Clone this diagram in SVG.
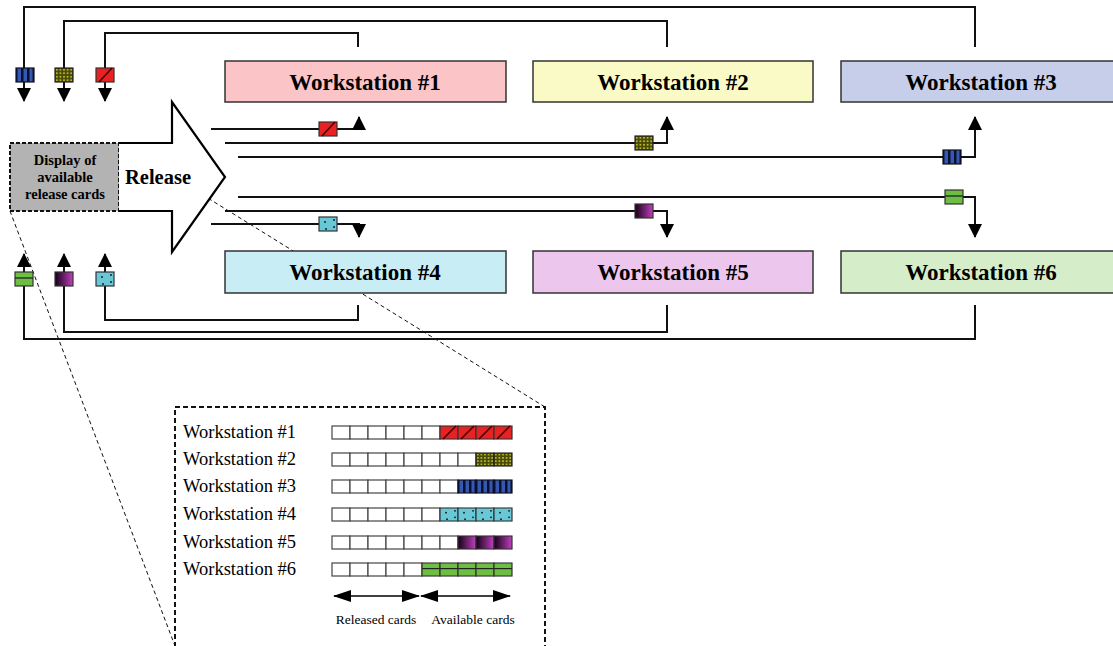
<svg xmlns="http://www.w3.org/2000/svg" width="1113" height="646" viewBox="0 0 1113 646">
<style>
.ln{fill:none;stroke:#111;stroke-width:2}
.ws{stroke:#333;stroke-width:1.5}
.wt{font-family:"Liberation Serif",serif;font-weight:bold;font-size:23px;text-anchor:middle;fill:#000}
.tt{font-family:"Liberation Serif",serif;font-size:18.5px;fill:#000}
.lb{font-family:"Liberation Serif",serif;font-size:13.5px;fill:#000;text-anchor:middle}
.dt{font-family:"Liberation Serif",serif;font-weight:bold;font-size:14.5px;text-anchor:middle;fill:#000}
.cell{fill:#fff;stroke:#444;stroke-width:1.2}
.dash{fill:none;stroke:#111;stroke-width:1;stroke-dasharray:4,3}
</style>
<defs>
<marker id="ah" viewBox="0 0 14 14" refX="13" refY="7" markerWidth="14" markerHeight="14" orient="auto" markerUnits="userSpaceOnUse"><path d="M0,0 L14,7 L0,14 z" fill="#000"/></marker>
<marker id="ah2" viewBox="0 0 18 12" refX="17" refY="6" markerWidth="18" markerHeight="12" orient="auto-start-reverse" markerUnits="userSpaceOnUse"><path d="M0,0 L18,6 L0,12 z" fill="#000"/></marker>
<pattern id="dots" width="3.6" height="3.5" patternUnits="userSpaceOnUse"><circle cx="1.8" cy="1.75" r="0.9" fill="#d8d830"/></pattern>
<linearGradient id="pg" x1="0" y1="0" x2="1" y2="0"><stop offset="0" stop-color="#150015"/><stop offset="1" stop-color="#c040c0"/></linearGradient>
<g id="cRed"><rect x="0" y="0" width="18" height="14" fill="#e82222" stroke="#333" stroke-width="1.2"/><path d="M3,14 L16,0" stroke="#400" stroke-width="1.6"/></g>
<g id="cOl"><rect x="0" y="0" width="18" height="14" fill="#4a4a08"/><rect x="0" y="0" width="18" height="14" fill="url(#dots)" stroke="#222" stroke-width="1.2"/></g>
<g id="cBl"><rect x="0" y="0" width="18" height="14" fill="#3558b0" stroke="#111" stroke-width="1.2"/><rect x="5" y="0" width="2.5" height="14" fill="#0a1030"/><rect x="11" y="0" width="2.5" height="14" fill="#0a1030"/><rect x="0" y="0" width="1.5" height="14" fill="#0a1030"/><rect x="16.5" y="0" width="1.5" height="14" fill="#0a1030"/></g>
<g id="cCy"><rect x="0" y="0" width="18" height="14" fill="#68c8d6" stroke="#333" stroke-width="1.2"/><circle cx="6" cy="5" r="0.9" fill="#111"/><circle cx="15" cy="3" r="0.9" fill="#111"/><circle cx="15" cy="10" r="0.9" fill="#111"/><circle cx="7" cy="12" r="0.9" fill="#111"/></g>
<g id="cPu"><rect x="0" y="0" width="18" height="14" fill="url(#pg)" stroke="#333" stroke-width="1.2"/></g>
<g id="cGr"><rect x="0" y="0" width="18" height="14" fill="#6cbf42" stroke="#333" stroke-width="1.2"/><path d="M0,6 H18" stroke="#222" stroke-width="1.3"/></g>
</defs>
<rect width="1113" height="646" fill="#fff"/>

<g id="connectors">
<path class="ln" d="M975,47 V7 H24 V101" marker-end="url(#ah)"/>
<path class="ln" d="M667,47 V21 H64 V101" marker-end="url(#ah)"/>
<path class="ln" d="M358,47 V33 H105 V101" marker-end="url(#ah)"/>
<path class="ln" d="M975,305 V339 H24 V254" marker-end="url(#ah)"/>
<path class="ln" d="M667,305 V332 H64 V254" marker-end="url(#ah)"/>
<path class="ln" d="M358,305 V320 H105 V254" marker-end="url(#ah)"/>
<path class="ln" d="M211,129 H359 V117" marker-end="url(#ah)"/>
<path class="ln" d="M225,143 H667 V117" marker-end="url(#ah)"/>
<path class="ln" d="M238,157 H975 V117" marker-end="url(#ah)"/>
<path class="ln" d="M238,197 H975 V237" marker-end="url(#ah)"/>
<path class="ln" d="M225,211 H667 V237" marker-end="url(#ah)"/>
<path class="ln" d="M211,224 H359 V237" marker-end="url(#ah)"/>
<path class="dash" d="M119,143 L545,407"/>
<path class="dash" d="M10,211 L175,646"/>
</g>

<g id="cards">
<use href="#cBl" x="16" y="68"/>
<use href="#cOl" x="55" y="68"/>
<use href="#cRed" x="96" y="68"/>
<use href="#cGr" x="15" y="272"/>
<use href="#cPu" x="55" y="272"/>
<use href="#cCy" x="96" y="272"/>
<use href="#cRed" x="319" y="122"/>
<use href="#cOl" x="635" y="136"/>
<use href="#cBl" x="943" y="150"/>
<use href="#cGr" x="945" y="190"/>
<use href="#cPu" x="635" y="204"/>
<use href="#cCy" x="319" y="217"/>
</g>

<g id="display">
<rect x="10" y="143" width="109" height="68" fill="#b3b3b3" stroke="#111" stroke-width="2" stroke-dasharray="4,2"/>
<text class="dt" x="65" y="165">Display of</text>
<text class="dt" x="65" y="182">available</text>
<text class="dt" x="65" y="199">release cards</text>
</g>

<g id="release">
<path d="M119,143 H172 V102 L225,177 L172,252 V211 H119" fill="#fff" stroke="#000" stroke-width="2.2" stroke-linejoin="miter"/>
<text x="158" y="184" font-family="Liberation Serif,serif" font-weight="bold" font-size="20.5" text-anchor="middle">Release</text>
</g>

<g id="ws1"><rect class="ws" x="225" y="61" width="281" height="41" fill="#fbc4c7"/><text class="wt" x="365" y="90">Workstation #1</text></g>
<g id="ws2"><rect class="ws" x="533" y="61" width="280" height="41" fill="#fafac6"/><text class="wt" x="673" y="90">Workstation #2</text></g>
<g id="ws3"><rect class="ws" x="841" y="61" width="274" height="41" fill="#c6cee9"/><text class="wt" x="981" y="90">Workstation #3</text></g>
<g id="ws4"><rect class="ws" x="225" y="251" width="281" height="42" fill="#c9edf4"/><text class="wt" x="365" y="280">Workstation #4</text></g>
<g id="ws5"><rect class="ws" x="533" y="251" width="280" height="42" fill="#edc6ed"/><text class="wt" x="673" y="280">Workstation #5</text></g>
<g id="ws6"><rect class="ws" x="841" y="251" width="274" height="42" fill="#d6edc9"/><text class="wt" x="981" y="280">Workstation #6</text></g>

<g id="legend">
<rect x="175" y="407" width="370" height="250" fill="none" stroke="#111" stroke-width="2" stroke-dasharray="5,3"/>
<text class="tt" x="183" y="438">Workstation #1</text>
<text class="tt" x="183" y="465">Workstation #2</text>
<text class="tt" x="183" y="492">Workstation #3</text>
<text class="tt" x="183" y="520">Workstation #4</text>
<text class="tt" x="183" y="548">Workstation #5</text>
<text class="tt" x="183" y="575">Workstation #6</text>
<g id="row1">
<rect class="cell" x="332" y="426" width="18" height="13"/><rect class="cell" x="350" y="426" width="18" height="13"/><rect class="cell" x="368" y="426" width="18" height="13"/><rect class="cell" x="386" y="426" width="18" height="13"/><rect class="cell" x="404" y="426" width="18" height="13"/><rect class="cell" x="422" y="426" width="18" height="13"/>
<use href="#cRed" transform="translate(440,426) scale(1,0.93)"/><use href="#cRed" transform="translate(458,426) scale(1,0.93)"/><use href="#cRed" transform="translate(476,426) scale(1,0.93)"/><use href="#cRed" transform="translate(494,426) scale(1,0.93)"/>
</g>
<g id="row2">
<rect class="cell" x="332" y="453" width="18" height="13"/><rect class="cell" x="350" y="453" width="18" height="13"/><rect class="cell" x="368" y="453" width="18" height="13"/><rect class="cell" x="386" y="453" width="18" height="13"/><rect class="cell" x="404" y="453" width="18" height="13"/><rect class="cell" x="422" y="453" width="18" height="13"/><rect class="cell" x="440" y="453" width="18" height="13"/><rect class="cell" x="458" y="453" width="18" height="13"/>
<use href="#cOl" transform="translate(476,453) scale(1,0.93)"/><use href="#cOl" transform="translate(494,453) scale(1,0.93)"/>
</g>
<g id="row3">
<rect class="cell" x="332" y="480" width="18" height="13"/><rect class="cell" x="350" y="480" width="18" height="13"/><rect class="cell" x="368" y="480" width="18" height="13"/><rect class="cell" x="386" y="480" width="18" height="13"/><rect class="cell" x="404" y="480" width="18" height="13"/><rect class="cell" x="422" y="480" width="18" height="13"/><rect class="cell" x="440" y="480" width="18" height="13"/>
<use href="#cBl" transform="translate(458,480) scale(1,0.93)"/><use href="#cBl" transform="translate(476,480) scale(1,0.93)"/><use href="#cBl" transform="translate(494,480) scale(1,0.93)"/>
</g>
<g id="row4">
<rect class="cell" x="332" y="508" width="18" height="13"/><rect class="cell" x="350" y="508" width="18" height="13"/><rect class="cell" x="368" y="508" width="18" height="13"/><rect class="cell" x="386" y="508" width="18" height="13"/><rect class="cell" x="404" y="508" width="18" height="13"/><rect class="cell" x="422" y="508" width="18" height="13"/>
<use href="#cCy" transform="translate(440,508) scale(1,0.93)"/><use href="#cCy" transform="translate(458,508) scale(1,0.93)"/><use href="#cCy" transform="translate(476,508) scale(1,0.93)"/><use href="#cCy" transform="translate(494,508) scale(1,0.93)"/>
</g>
<g id="row5">
<rect class="cell" x="332" y="536" width="18" height="13"/><rect class="cell" x="350" y="536" width="18" height="13"/><rect class="cell" x="368" y="536" width="18" height="13"/><rect class="cell" x="386" y="536" width="18" height="13"/><rect class="cell" x="404" y="536" width="18" height="13"/><rect class="cell" x="422" y="536" width="18" height="13"/><rect class="cell" x="440" y="536" width="18" height="13"/>
<use href="#cPu" transform="translate(458,536) scale(1,0.93)"/><use href="#cPu" transform="translate(476,536) scale(1,0.93)"/><use href="#cPu" transform="translate(494,536) scale(1,0.93)"/>
</g>
<g id="row6">
<rect class="cell" x="332" y="563" width="18" height="13"/><rect class="cell" x="350" y="563" width="18" height="13"/><rect class="cell" x="368" y="563" width="18" height="13"/><rect class="cell" x="386" y="563" width="18" height="13"/><rect class="cell" x="404" y="563" width="18" height="13"/>
<use href="#cGr" transform="translate(422,563) scale(1,0.93)"/><use href="#cGr" transform="translate(440,563) scale(1,0.93)"/><use href="#cGr" transform="translate(458,563) scale(1,0.93)"/><use href="#cGr" transform="translate(476,563) scale(1,0.93)"/><use href="#cGr" transform="translate(494,563) scale(1,0.93)"/>
</g>
<path d="M334,596 H419" stroke="#000" stroke-width="1.3" marker-start="url(#ah2)" marker-end="url(#ah2)"/>
<path d="M421,596 H510" stroke="#000" stroke-width="1.3" marker-start="url(#ah2)" marker-end="url(#ah2)"/>
<text class="lb" x="376" y="624">Released cards</text>
<text class="lb" x="473" y="624">Available cards</text>
</g>
</svg>
